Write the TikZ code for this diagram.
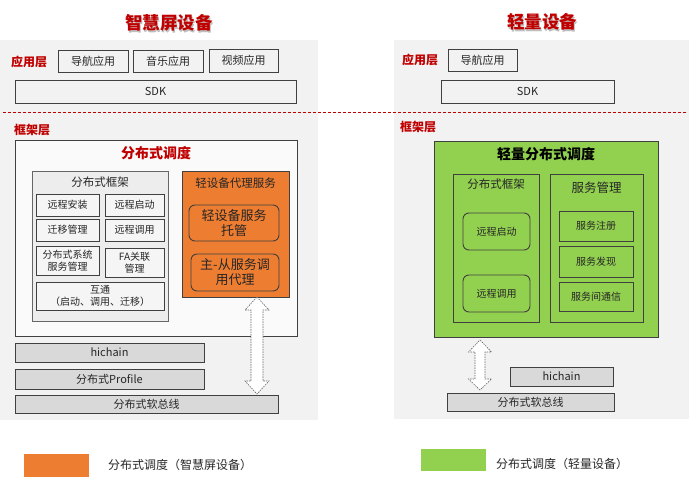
\documentclass[tikz,border=0pt]{standalone}
\usepackage{fontspec}
\setmainfont{Noto Sans CJK SC}
\definecolor{bgc}{HTML}{F2F2F2}
\definecolor{redt}{HTML}{C00000}
\definecolor{bord}{HTML}{404040}
\definecolor{orng}{HTML}{ED7D31}
\definecolor{grn}{HTML}{92D050}
\definecolor{darkbar}{HTML}{D9D9D9}
\definecolor{txt}{HTML}{262626}
\newcommand\fs[1]{\fontsize{#1}{#1}\selectfont}
\newcommand\bx[7]{\node[#1, minimum width={(#5-#3)*1pt}, minimum height={(#6-#4)*1pt}] (#2) at ({(#3+#5)/2},{(#4+#6)/2}) {#7};}
\tikzset{
  base/.style={inner sep=0pt, outer sep=0pt, text=txt, align=center},
  panel/.style={base, fill=bgc},
  appbox/.style={base, draw=bord, line width=0.9pt, fill=bgc, font=\fs{11}},
  barbox/.style={base, draw=bord, line width=0.9pt, fill=darkbar, font=\fs{11}},
  inbox/.style={base, draw=bord, line width=0.9pt, fill=bgc!80!white, font={\fontsize{10}{12}\selectfont}},
  rbox/.style={base, draw=bord, line width=0.9pt, rounded corners=6pt, font={\fontsize{10}{12}\selectfont}},
  orbox/.style={base, draw=bord, line width=0.9pt, rounded corners=6pt, fill=orng, font={\fontsize{13}{15}\selectfont}},
  lay/.style={base, text=redt, font=\fs{12}\bfseries},
  ttl/.style={base, text=redt, font=\fs{17.5}\bfseries},
  shd/.style={base, text=black, opacity=0.25, font=\fs{17.5}\bfseries},
  lbl/.style={base, font=\fs{11.5}},
  dar/.style={draw=gray!80!black, line width=0.6pt, dash pattern=on 1.5pt off 1pt, fill=white},
}
\begin{document}
\begin{tikzpicture}[x=1pt,y=-1pt]
\useasboundingbox (0,0) rectangle (692,476);
% titles
\node[shd] (t1s) at (170,24.5) {智慧屏设备};
\node[ttl] (t1) at (169,23) {智慧屏设备};
\node[shd] (t2s) at (543,23.5) {轻量设备};
\node[ttl] (t2) at (542,22) {轻量设备};
% panels
\bx{panel}{p1}{0}{40}{318}{420}{}
\bx{panel}{p2}{394}{40}{689}{419}{}
% separator
\draw[redt, line width=0.8pt, dash pattern=on 3pt off 2pt] (3,112) -- (686,112);
% ---------------- left ----------------
\node[lay] (l1) at (29,62) {应用层};
\bx{appbox}{a1}{58}{50}{128}{72}{导航应用}
\bx{appbox}{a2}{133}{50}{203}{72}{音乐应用}
\bx{appbox}{a3}{209}{49}{278}{72}{视频应用}
\bx{appbox}{sdk1}{15}{80}{296}{103}{SDK}
\node[lay] (l2) at (32,130) {框架层};
\bx{base, draw=bord, line width=0.9pt, fill=white!98!black}{ds}{15}{140}{297}{336}{}
\node[base, text=redt, font=\fs{14}\bfseries] (dst) at (156,153) {分布式调度};
\bx{base, draw=bord!80, line width=0.9pt, fill=black!7}{fw}{32}{171}{168}{321}{}
\node[lbl] (fwt) at (100,182) {分布式框架};
\bx{inbox}{b1}{36}{194}{99}{216}{远程安装}
\bx{inbox}{b2}{105}{194}{164}{216}{远程启动}
\bx{inbox}{b3}{36}{219}{99}{241}{迁移管理}
\bx{inbox}{b4}{105}{219}{164}{241}{远程调用}
\bx{inbox}{b5}{36}{246}{99}{275}{分布式系统\\服务管理}
\bx{inbox}{b6}{105}{248}{164}{277}{FA关联\\管理}
\bx{inbox}{b7}{36}{282}{164}{310}{互通\\（启动、调用、迁移）}
\bx{base, draw=bord, line width=0.9pt, fill=orng}{ob}{182}{171}{289}{297}{}
\node[lbl] (obt) at (235.5,183) {轻设备代理服务};
\bx{orbox}{o1}{189}{205}{279}{241}{轻设备服务\\托管}
\bx{orbox}{o2}{191}{254}{279}{291}{主-从服务调\\用代理}
\bx{barbox}{hc1}{15}{343}{204}{362}{hichain}
\bx{barbox}{pf1}{15}{369}{204}{389}{分布式Profile}
\bx{barbox}{sb1}{15}{395}{278}{413}{分布式软总线}
% double arrow left
\draw[dar] (257,297) -- (269,310) -- (263,310) -- (263,381) -- (269,381) -- (257,394)
  -- (245,381) -- (251,381) -- (251,310) -- (245,310) -- cycle;
% ---------------- right ----------------
\node[lay] (r1) at (420,60) {应用层};
\bx{appbox}{ra1}{448}{49}{517}{71}{导航应用}
\bx{appbox}{sdk2}{441}{80}{614}{103}{SDK}
\node[lay] (r2) at (418,127) {框架层};
\bx{base, draw=bord, line width=0.9pt, fill=grn}{gb}{434}{141}{658}{337}{}
\node[base, text=black, font=\fs{14}\bfseries] (gbt) at (546,154) {轻量分布式调度};
\bx{base, draw=bord, line width=0.9pt}{gf}{453}{174}{539}{322}{}
\node[lbl] (gft) at (496,184) {分布式框架};
\bx{rbox}{g1}{463}{213}{530}{250}{远程启动}
\bx{rbox}{g2}{463}{275}{530}{312}{远程调用}
\bx{base, draw=bord, line width=0.9pt}{sm}{550}{174}{643}{322}{}
\node[base, font=\fs{12.5}] (smt) at (596.5,188) {服务管理};
\bx{inbox, fill=grn}{s1}{559}{211}{633}{241}{服务注册}
\bx{inbox, fill=grn}{s2}{559}{246}{633}{277}{服务发现}
\bx{inbox, fill=grn}{s3}{559}{282}{633}{311}{服务间通信}
\bx{barbox}{hc2}{510}{367}{613}{386}{hichain}
\bx{barbox}{sb2}{447}{393}{614}{411}{分布式软总线}
% double arrow right
\draw[dar] (480,340) -- (491.5,352) -- (485,352) -- (485,379) -- (491.5,379) -- (480,390)
  -- (468.5,379) -- (475,379) -- (475,352) -- (468.5,352) -- cycle;
% ---------------- legend ----------------
\bx{base, fill=orng}{lg1}{24}{454}{89}{478}{}
\node[base, anchor=west, font=\fs{12}] (lg1t) at (108,465) {分布式调度（智慧屏设备）};
\bx{base, fill=grn}{lg2}{421}{449}{486}{471}{}
\node[base, anchor=west, font=\fs{12}] (lg2t) at (496,464) {分布式调度（轻量设备）};
\end{tikzpicture}
\end{document}
